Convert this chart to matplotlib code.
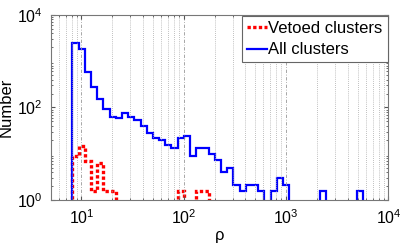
import numpy as np
import matplotlib
matplotlib.use("Agg")
import matplotlib.pyplot as plt
from matplotlib.ticker import LogLocator, NullFormatter

plt.rcParams['font.family'] = ['Liberation Sans', 'DejaVu Sans']
plt.rcParams['mathtext.fontset'] = 'custom'
plt.rcParams['mathtext.rm'] = 'Liberation Sans'

# bin edges in log10(rho): first edge and width
log_start = 0.912
log_width = 0.0605
n_bins = 52

# histogram heights (0 = empty bin)
all_counts = [2500, 1850, 580, 275, 150, 93, 63, 58, 75, 63,
              54, 40, 28, 22, 20, 15.5, 13.5, 21.6, 24.5, 9,
              13.6, 13.6, 10, 7.3, 4.1, 5, 2.1, 1.55, 2.1, 2.1,
              1.55, 0, 1.55, 3, 2.1, 0, 0, 0, 0, 0,
              1.55, 0, 0, 0, 0, 0, 1.55]
vetoed_counts = [9, 15, 7, 1.55, 6.3, 1.55, 1.55, 0, 0, 0,
                 0, 0, 0, 0, 0, 0, 0, 1.55, 0, 0,
                 1.55, 1.55]

edges = 10 ** (log_start + log_width * np.arange(n_bins + 1))


def pad(vals):
    v = np.zeros(n_bins)
    v[:len(vals)] = vals
    v[v <= 0] = 1e-3
    return v


fig = plt.figure(figsize=(4.15, 2.49), dpi=100)
ax = fig.add_axes([0.122, 0.197, 0.814, 0.743])

ax.stairs(pad(vetoed_counts), edges, baseline=1e-3, color=(1, 0, 0),
          linewidth=2.4, linestyle=(0, (1.0, 0.7)), label="Vetoed clusters")
ax.stairs(pad(all_counts), edges, baseline=1e-3, color=(0, 0, 1),
          linewidth=1.6, label="All clusters")

ax.set_xscale("log")
ax.set_yscale("log")
ax.set_xlim(5, 1e4)
ax.set_ylim(1, 1e4)

ax.xaxis.set_major_locator(LogLocator(base=10, numticks=10))
ax.xaxis.set_minor_locator(LogLocator(base=10, subs=np.arange(2, 10), numticks=20))
ax.xaxis.set_minor_formatter(NullFormatter())
ax.set_yticks([1, 1e2, 1e4])
ax.yaxis.set_minor_locator(LogLocator(base=10, subs=np.arange(2, 10), numticks=20))
ax.yaxis.set_minor_formatter(NullFormatter())

ax.grid(True, which="major", axis="x", color="#999999", linestyle=(0, (4, 2, 1, 2)), linewidth=0.6)
ax.grid(True, which="minor", axis="x", color="#aaaaaa", linestyle=(0, (1, 1.5)), linewidth=0.6)

ax.tick_params(which="both", direction="in", top=True, right=True, color="#555555")
ax.tick_params(which="major", length=3, labelsize=11.5, pad=6)
ax.tick_params(which="minor", length=1.5)
for s in ax.spines.values():
    s.set_color("#777777")
    s.set_linewidth(0.8)

ax.set_xlabel("ρ", fontsize=12, labelpad=1)
ax.set_ylabel("Number", fontsize=12, labelpad=2)

leg = ax.legend(loc="upper right", fontsize=12, borderaxespad=0.05, fancybox=False,
                handlelength=1.2, handletextpad=0.1, borderpad=0.3, labelspacing=0.4,
                framealpha=1)
leg.get_frame().set_edgecolor("#666666")
leg.get_frame().set_linewidth(0.8)

fig.savefig("out.png", dpi=100)
